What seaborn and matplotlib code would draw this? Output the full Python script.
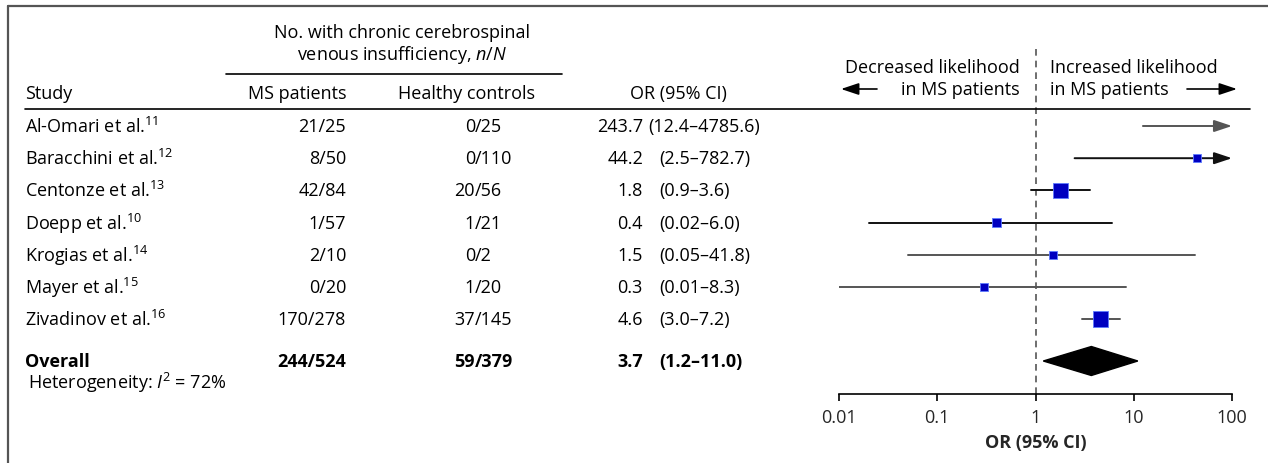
import numpy as np
import pandas as pd
import matplotlib
matplotlib.use("Agg")
import matplotlib.pyplot as plt
import matplotlib.transforms as mtransforms
from matplotlib.lines import Line2D
import seaborn as sns

# ============================================================
# DATA
# ============================================================

studies = ["Al-Omari et al.", "Baracchini et al.", "Centonze et al.", "Doepp et al.",
           "Krogias et al.", "Mayer et al.", "Zivadinov et al."]
refs = ["11", "12", "13", "10", "14", "15", "16"]
ms_patients = ["21/25", "8/50", "42/84", "1/57", "2/10", "0/20", "170/278"]
healthy_controls = ["0/25", "0/110", "20/56", "1/21", "0/2", "1/20", "37/145"]
odds_ratio = [243.7, 44.2, 1.8, 0.4, 1.5, 0.3, 4.6]
ci_low = [12.4, 2.5, 0.9, 0.02, 0.05, 0.01, 3.0]
ci_high = [4785.6, 782.7, 3.6, 6.0, 41.8, 8.3, 7.2]
box_weight = [1, 1, 4, 1, 1, 1, 4]          # relative box area

overall_ms = "244/524"
overall_hc = "59/379"
overall_or = 3.7
overall_low = 1.2
overall_high = 11.0
heterogeneity = 72

tick_values = [0.01, 0.1, 1, 10, 100]
tick_labels = ["0.01", "0.1", "1", "10", "100"]

# ============================================================
# STYLE
# ============================================================

sns.set_theme(style="white")
plt.rcParams["font.family"] = ["Open Sans", "DejaVu Sans"]
plt.rcParams["mathtext.fontset"] = "custom"
plt.rcParams["mathtext.rm"] = "Open Sans"
plt.rcParams["mathtext.it"] = "Open Sans:italic"
plt.rcParams["mathtext.bf"] = "Open Sans:bold"

FS = 13
W, H = 1268, 464
fig = plt.figure(figsize=(W / 100, H / 100), dpi=100)

# forest panel placed in pixel terms
x0, x1 = 839, 1232
y_top, y_bot = 50, 395
ax = fig.add_axes([x0 / W, (H - y_bot) / H, (x1 - x0) / W, (y_bot - y_top) / H])

ROW0, STEP = 127, 32.2


def row(px):
    return (px - ROW0) / STEP


ax.set_xscale("log")
ax.set_xlim(0.01, 100)
ax.set_ylim(row(y_bot), row(y_top))

n = len(studies)
rows = np.arange(n)
overall_row = row(362)
df = pd.DataFrame({"study": studies, "or": odds_ratio, "lo": ci_low, "hi": ci_high,
                   "w": box_weight, "y": rows})

# null line
ax.axvline(1, color="#555555", lw=1.2, ls=(0, (4, 3)), zorder=1)

# confidence intervals, arrows where they run past the axis
line_cols = ["#555555", "#111111", "#111111", "#111111", "#555555", "#555555", "#555555"]
for i, r in df.iterrows():
    c = line_cols[i]
    if r["hi"] > 100:
        ax.annotate("", xy=(100, r["y"]), xytext=(r["lo"], r["y"]),
                    arrowprops=dict(arrowstyle="-|>,head_length=0.9,head_width=0.3",
                                    color=c, lw=1.4, shrinkA=0, shrinkB=0),
                    annotation_clip=False)
    else:
        ax.plot([r["lo"], r["hi"]], [r["y"], r["y"]], color=c, lw=1.4, zorder=2)

sns.scatterplot(data=df[df["or"] < 100], x="or", y="y", size="w", sizes=(36, 125),
                marker="s", color="#0000C0", edgecolor="#5E7BFF", linewidth=0.6,
                legend=False, zorder=3, ax=ax)

# pooled diamond
h = 0.45
ax.fill([overall_low, overall_or, overall_high, overall_or],
        [overall_row, overall_row - h, overall_row, overall_row + h],
        color="black", zorder=3)

ax.set_xticks(tick_values)
ax.set_xticklabels(tick_labels)
ax.minorticks_off()
ax.set_yticks([])
ax.set_xlabel("OR (95% CI)", fontsize=FS, fontweight="bold", labelpad=5)
ax.set_ylabel("")
for s in ["top", "left", "right"]:
    ax.spines[s].set_visible(False)
ax.spines["bottom"].set_color("black")
ax.spines["bottom"].set_linewidth(1.2)
ax.tick_params(axis="x", direction="out", length=5, width=1.2, color="black",
               labelsize=FS, pad=5, bottom=True)
ax.patch.set_alpha(0)

# ============================================================
# TABLE TEXT (x in pixels, y in row units)
# ============================================================

tr = mtransforms.blended_transform_factory(
    mtransforms.Affine2D().scale(1 / W, 1 / H) + fig.transFigure, ax.transData)


def txt(x, y, s, ha="left", **kw):
    ax.text(x, y, s, transform=tr, ha=ha, va="center", fontsize=kw.pop("fontsize", FS),
            color="black", clip_on=False, **kw)


txt(402, row(33), "No. with chronic cerebrospinal", ha="center")
txt(402, row(55), "venous insufficiency, $n/N$", ha="center")
ax.add_line(Line2D([226, 562], [row(75), row(75)], transform=tr, color="black",
                   lw=1.2, clip_on=False))

txt(25, row(94), "Study")
txt(346, row(94), "MS patients", ha="right")
txt(467, row(94), "Healthy controls", ha="center")
txt(678, row(94), "OR (95% CI)", ha="center")
ax.add_line(Line2D([25, 1250], [row(110), row(110)], transform=tr, color="black",
                   lw=1.2, clip_on=False))

for i in range(n):
    y = rows[i]
    txt(25, y, f"{studies[i]}$^{{{refs[i]}}}$")
    txt(346, y, ms_patients[i], ha="right")
    num, den = healthy_controls[i].split("/")
    txt(475, y, num, ha="right")
    txt(475, y, "/" + den)
    txt(643, y, f"{odds_ratio[i]:.1f}", ha="right")
    lo_s = f"{ci_low[i]:.2f}" if ci_low[i] < 0.1 else f"{ci_low[i]:.1f}"
    txt(659 if i else 648, y, f"({lo_s}–{ci_high[i]:.1f})")

txt(25, overall_row, "Overall", fontweight="bold")
txt(346, overall_row, overall_ms, ha="right", fontweight="bold")
num, den = overall_hc.split("/")
txt(475, overall_row, num, ha="right", fontweight="bold")
txt(475, overall_row, "/" + den, fontweight="bold")
txt(643, overall_row, f"{overall_or:.1f}", ha="right", fontweight="bold")
txt(659, overall_row, f"({overall_low:.1f}–{overall_high:.1f})", fontweight="bold")
txt(28, row(383), f"Heterogeneity: $I^2$ = {heterogeneity}%")

# direction labels above the forest panel
txt(1020, row(68), "Decreased likelihood", ha="right")
txt(1020, row(90), "in MS patients", ha="right")
txt(1050, row(68), "Increased likelihood")
txt(1050, row(90), "in MS patients")
for xs, xe in [(877, 841), (1187, 1237)]:
    ax.annotate("", xy=(xe, row(90)), xytext=(xs, row(90)), xycoords=tr, textcoords=tr,
                arrowprops=dict(arrowstyle="-|>,head_length=0.9,head_width=0.3",
                                color="black", lw=1.2, shrinkA=0, shrinkB=0),
                annotation_clip=False)

# frame (top and left edges)
fig.add_artist(Line2D([8 / W, 1.0], [1 - 7 / H, 1 - 7 / H], transform=fig.transFigure,
                      color="#555555", lw=1.6))
fig.add_artist(Line2D([8 / W, 8 / W], [0, 1 - 7 / H], transform=fig.transFigure,
                      color="#555555", lw=1.6))

plt.savefig("out.png", dpi=100)
plt.close()
